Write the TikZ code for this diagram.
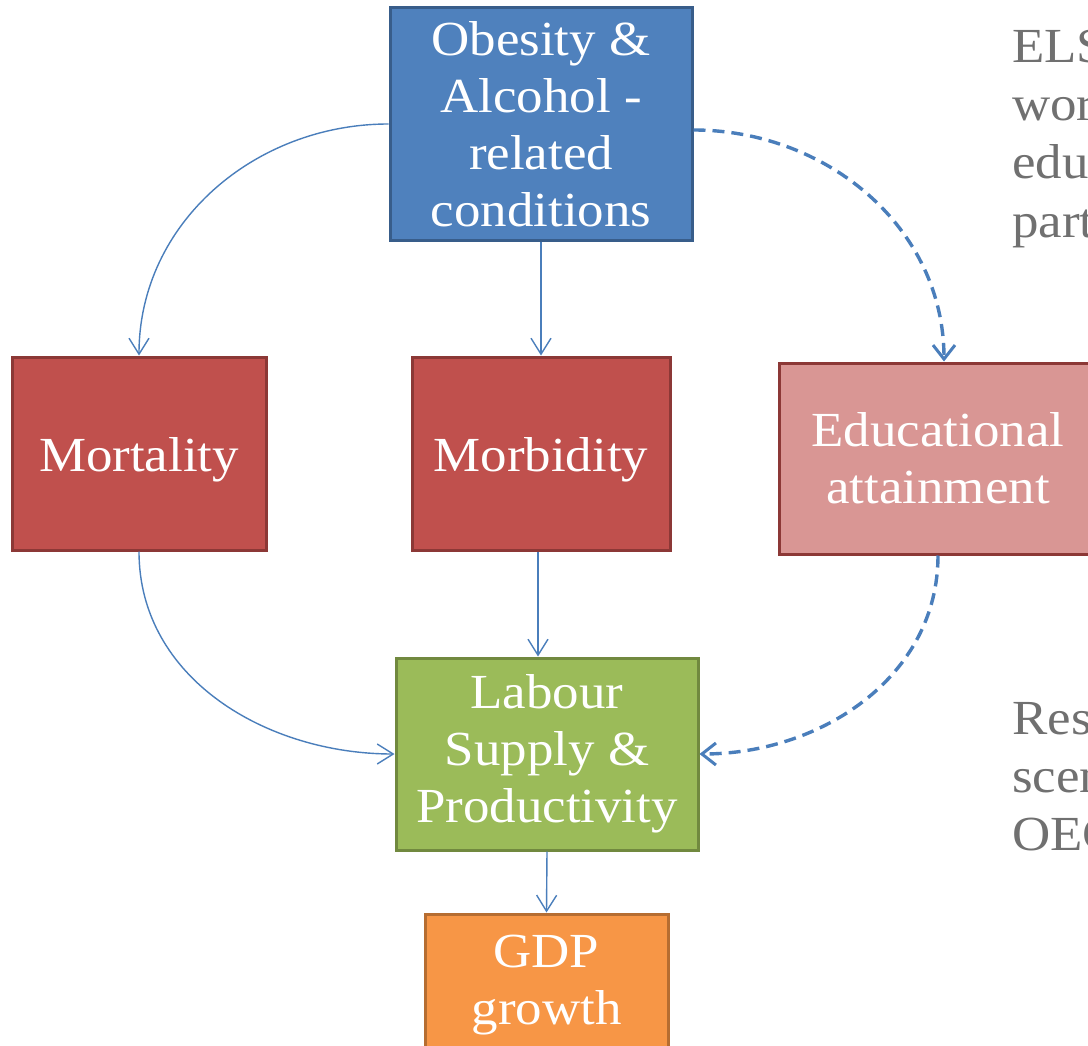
\documentclass[tikz,border=0pt]{standalone}
\usepackage{fontspec}
\setmainfont[FakeStretch=1.08]{Liberation Serif}
\usetikzlibrary{arrows.meta}

\definecolor{blueFill}{HTML}{4F81BD}
\definecolor{blueEdge}{HTML}{385D8A}
\definecolor{redFill}{HTML}{C0504D}
\definecolor{redEdge}{HTML}{8C3836}
\definecolor{pinkFill}{HTML}{D99694}
\definecolor{greenFill}{HTML}{9BBB59}
\definecolor{greenEdge}{HTML}{71893F}
\definecolor{orangeFill}{HTML}{F79646}
\definecolor{orangeEdge}{HTML}{B66D31}
\definecolor{linkBlue}{HTML}{4A7EBB}
\definecolor{noteGray}{HTML}{707070}

\tikzset{
  box/.style={draw, line width=3pt, text=white, align=center, inner sep=0pt,
    font=\fontsize{49}{57}\selectfont,
    % a tall strut on the first line sets the text a little lower in the box
    execute at begin node={\rule{0pt}{47pt}}},
  link/.style={draw=linkBlue, line width=1.4pt,
    -{Straight Barb[length=16pt,width=20pt,line width=1.4pt]}},
  dashlink/.style={draw=linkBlue, line width=3.4pt, dash pattern=on 12pt off 7pt,
    -{Straight Barb[length=14pt,width=22pt,line width=3pt]}},
  note/.style={text=noteGray, anchor=base west, inner sep=0pt,
    font=\fontsize{49}{57}\selectfont},
}

\begin{document}
\begin{tikzpicture}[x=1pt,y=1pt]
\useasboundingbox (0,0) rectangle (1088,-1046);
\clip (0,0) rectangle (1088,-1046);
\fill[white] (0,0) rectangle (1088,-1046);

% boxes
\node[box, fill=blueFill, draw=blueEdge, minimum width=302pt, minimum height=232pt]
  (obes) at (541,-124) {Obesity \&\\Alcohol -\\related\\conditions};
\node[box, fill=redFill, draw=redEdge, minimum width=254pt, minimum height=193pt]
  (mort) at (139,-453.5) {Mortality};
\node[box, fill=redFill, draw=redEdge, minimum width=258pt, minimum height=193pt]
  (morb) at (541,-453.5) {Morbidity};
\node[box, fill=pinkFill, draw=redEdge, minimum width=318pt, minimum height=191pt]
  (edu) at (938,-458.5) {Educational\\attainment};
\node[box, fill=greenFill, draw=greenEdge, minimum width=302pt, minimum height=192pt]
  (lab) at (547,-754) {Labour\\Supply \&\\Productivity};
\node[box, fill=orangeFill, draw=orangeEdge, minimum width=243pt, minimum height=142pt]
  (gdp) at (546.5,-985) {GDP\\growth};

% side notes
\node[note] (n1) at (1012,-63) {ELS};
\node[note] (n2) at (1012,-121) {wor};
\node[note] (n3) at (1012,-179) {edu};
\node[note] (n4) at (1012,-237) {part};
\node[note] (n5) at (1012,-734) {Res};
\node[note] (n6) at (1012,-792) {scen};
\node[note] (n7) at (1012,-850) {OEC};

% connectors
\draw[link] (obes.west) to[out=180,in=90] (mort.north);
\draw[link] (obes.south) -- (morb.north);
\draw[dashlink] ([yshift=-6pt]obes.east) to[out=0,in=90] ([xshift=6pt]edu.north);
\draw[link] (mort.south) to[out=-90,in=180] (lab.west);
\draw[link] ([xshift=-3pt]morb.south) -- ([xshift=-9pt]lab.north);
\draw[dashlink] (edu.south) to[out=-90,in=0] (lab.east);
\draw[link] (lab.south) -- (gdp.north);
\end{tikzpicture}
\end{document}
